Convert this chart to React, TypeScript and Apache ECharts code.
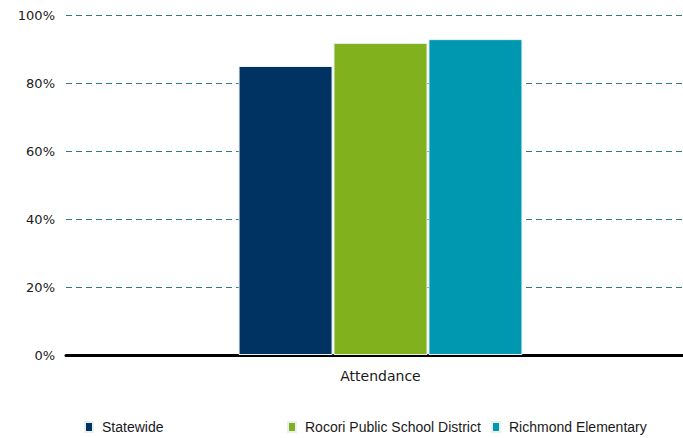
import React, { useEffect, useRef } from "react";
import * as echarts from "echarts";

const categories = ["Attendance"];
const seriesNames = ["Statewide", "Rocori Public School District", "Richmond Elementary"];
const seriesValues = [[85], [91.8], [92.9]];
const colors = ["#003361", "#82b11e", "#0098b1"];
const yTicks = [0, 20, 40, 60, 80, 100];

export default function App() {
  const ref = useRef<HTMLDivElement>(null);
  useEffect(() => {
    if (!ref.current) return;
    const chart = echarts.init(ref.current, null, { renderer: "svg" });
    const legendLefts = [79, 282, 486];
    chart.setOption({
      animation: false,
      grid: { left: 66, top: 15, right: 0, height: 340 },
      xAxis: {
        type: "category",
        data: categories,
        axisLine: { lineStyle: { color: "#000", width: 3 } },
        axisTick: { show: false },
        axisLabel: { color: "#1a1a1a", fontSize: 14, fontFamily: "DejaVu Sans", margin: 14 },
      },
      yAxis: {
        type: "value",
        min: yTicks[0],
        max: yTicks[yTicks.length - 1],
        interval: 20,
        axisLine: { show: false },
        axisTick: { show: false },
        axisLabel: {
          color: "#1a1a1a",
          fontSize: 13,
          fontFamily: "DejaVu Sans",
          margin: 11,
          formatter: (v: number) => v + "%",
        },
        splitLine: { lineStyle: { color: "#2a7d78", type: [6, 4], width: 1 } },
      },
      legend: seriesNames.map((n, i) => ({
        data: [n],
        left: legendLefts[i],
        top: 415,
        icon: "rect",
        itemWidth: 8,
        itemHeight: 10,
        itemGap: 0,
        textStyle: { color: "#1a1a1a", fontSize: 14, fontFamily: "Liberation Sans", padding: [0, 0, 0, 4] },
        selectedMode: false,
      })),
      series: seriesNames.map((n, i) => ({
        name: n,
        type: "bar",
        data: seriesValues[i],
        barWidth: 94,
        barGap: "1%",
        itemStyle: { color: colors[i], borderColor: "#e8f0f0", borderWidth: 1 },
      })),
    });
    return () => chart.dispose();
  }, []);
  return (
    <div style={{ width: 683, height: 438, position: "absolute", left: 0, top: 0, overflow: "hidden" }}>
      <div ref={ref} style={{ width: 695, height: 438 }} />
    </div>
  );
}
